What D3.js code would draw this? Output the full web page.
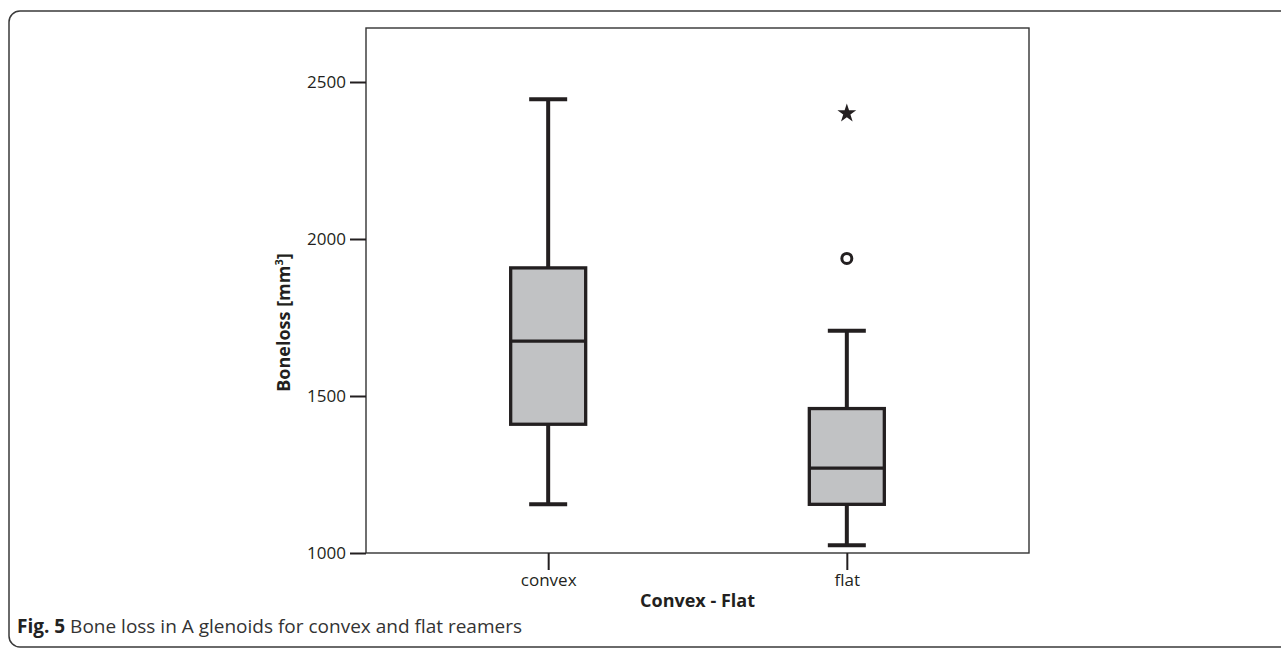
<!DOCTYPE html>
<html>
<head>
<meta charset="utf-8">
<script src="https://cdn.jsdelivr.net/npm/d3@7"></script>
<style>
  body { margin: 0; background: #fff; }
  text { font-family: "Open Sans", "DejaVu Sans", sans-serif; }
</style>
</head>
<body>
<script>
const w = 1281;
const h = 650;

// data
const groups = ["convex", "flat"];
const whiskerLow = [1155, 1025];
const q1 = [1410, 1155];
const median = [1675, 1270];
const q3 = [1908, 1460];
const whiskerHigh = [2445, 1708];
const outliers = [{ group: "flat", value: 1938 }];
const extremes = [{ group: "flat", value: 2400 }];
const yTicks = [1000, 1500, 2000, 2500];

const plot = { left: 366, top: 28, right: 1029, bottom: 553 };
const ink = "#231f20";

let svg = d3.select("body")
  .append("svg")
  .attr("width", w)
  .attr("height", h);

// outer figure frame (runs off the right edge)
svg.append("rect")
  .attr("x", 9).attr("y", 11)
  .attr("width", 1320).attr("height", 636)
  .attr("rx", 11)
  .attr("fill", "none")
  .attr("stroke", "#3a3a3a")
  .attr("stroke-width", 1.5);

let y = d3.scaleLinear()
  .domain([1000, 2500])
  .range([plot.bottom, 82]);

let x = d3.scalePoint()
  .domain(groups)
  .range([plot.left, plot.right])
  .padding(0.61);

// plot frame
svg.append("rect")
  .attr("x", plot.left).attr("y", plot.top)
  .attr("width", plot.right - plot.left)
  .attr("height", plot.bottom - plot.top)
  .attr("fill", "none")
  .attr("stroke", "#333")
  .attr("stroke-width", 1.4);

// y axis
let yAxis = d3.axisLeft(y).tickValues(yTicks).tickFormat(d3.format("d"))
  .tickSize(16).tickPadding(4);
let yg = svg.append("g")
  .attr("transform", `translate(${plot.left},0)`)
  .call(yAxis);
yg.select(".domain").remove();
yg.selectAll("line").attr("stroke", ink).attr("stroke-width", 2);
yg.selectAll("text").attr("font-size", 17).attr("fill", ink);

// x axis
let xAxis = d3.axisBottom(x).tickSize(17).tickPadding(4);
let xg = svg.append("g")
  .attr("transform", `translate(0,${plot.bottom})`)
  .call(xAxis);
xg.select(".domain").remove();
xg.selectAll("line").attr("stroke", ink).attr("stroke-width", 2);
xg.selectAll("text").attr("font-size", 17).attr("fill", ink);

// axis titles
svg.append("text")
  .attr("x", (plot.left + plot.right) / 2)
  .attr("y", 607)
  .attr("text-anchor", "middle")
  .attr("font-size", 18)
  .attr("font-weight", "bold")
  .attr("fill", ink)
  .text("Convex - Flat");

let ylab = svg.append("text")
  .attr("transform", `translate(290,${(y(1000) + y(2500)) / 2 + 5}) rotate(-90)`)
  .attr("text-anchor", "middle")
  .attr("font-size", 18)
  .attr("font-weight", "bold")
  .attr("fill", ink);
ylab.append("tspan").text("Boneloss [mm");
ylab.append("tspan").attr("font-size", 11).attr("dy", -7).text("3");
ylab.append("tspan").attr("dy", 7).text("]");

// boxes
const boxW = 75;
const capW = 38;
const rows = groups.map((g, i) => ({
  g, lo: whiskerLow[i], q1: q1[i], med: median[i], q3: q3[i], hi: whiskerHigh[i]
}));

let boxes = svg.append("g").selectAll("g")
  .data(rows)
  .enter()
  .append("g")
  .attr("transform", (d) => `translate(${x(d.g)},0)`);

boxes.append("line")
  .attr("y1", (d) => y(d.hi)).attr("y2", (d) => y(d.q3))
  .attr("stroke", ink).attr("stroke-width", 4);
boxes.append("line")
  .attr("y1", (d) => y(d.q1)).attr("y2", (d) => y(d.lo))
  .attr("stroke", ink).attr("stroke-width", 4);
boxes.append("line")
  .attr("x1", -capW / 2).attr("x2", capW / 2)
  .attr("y1", (d) => y(d.hi)).attr("y2", (d) => y(d.hi))
  .attr("stroke", ink).attr("stroke-width", 4);
boxes.append("line")
  .attr("x1", -capW / 2).attr("x2", capW / 2)
  .attr("y1", (d) => y(d.lo)).attr("y2", (d) => y(d.lo))
  .attr("stroke", ink).attr("stroke-width", 4);
boxes.append("rect")
  .attr("x", -boxW / 2)
  .attr("y", (d) => y(d.q3))
  .attr("width", boxW)
  .attr("height", (d) => y(d.q1) - y(d.q3))
  .attr("fill", "#c1c2c4")
  .attr("stroke", ink)
  .attr("stroke-width", 3.3);
boxes.append("line")
  .attr("x1", -boxW / 2).attr("x2", boxW / 2)
  .attr("y1", (d) => y(d.med)).attr("y2", (d) => y(d.med))
  .attr("stroke", ink).attr("stroke-width", 3.3);

// outliers
svg.append("g").selectAll("circle")
  .data(outliers)
  .enter()
  .append("circle")
  .attr("cx", (d) => x(d.group))
  .attr("cy", (d) => y(d.value))
  .attr("r", 5)
  .attr("fill", "none")
  .attr("stroke", ink)
  .attr("stroke-width", 3);

svg.append("g").selectAll("path")
  .data(extremes)
  .enter()
  .append("path")
  .attr("transform", (d) => `translate(${x(d.group)},${y(d.value)})`)
  .attr("d", d3.symbol(d3.symbolStar, 110))
  .attr("fill", ink);

// caption
let cap = svg.append("text")
  .attr("x", 17)
  .attr("y", 633)
  .attr("font-size", 19)
  .attr("fill", "#333");
cap.append("tspan").attr("font-weight", "bold").attr("fill", "#222").text("Fig. 5");
cap.append("tspan").text(" Bone loss in A glenoids for convex and flat reamers");
</script>
</body>
</html>
